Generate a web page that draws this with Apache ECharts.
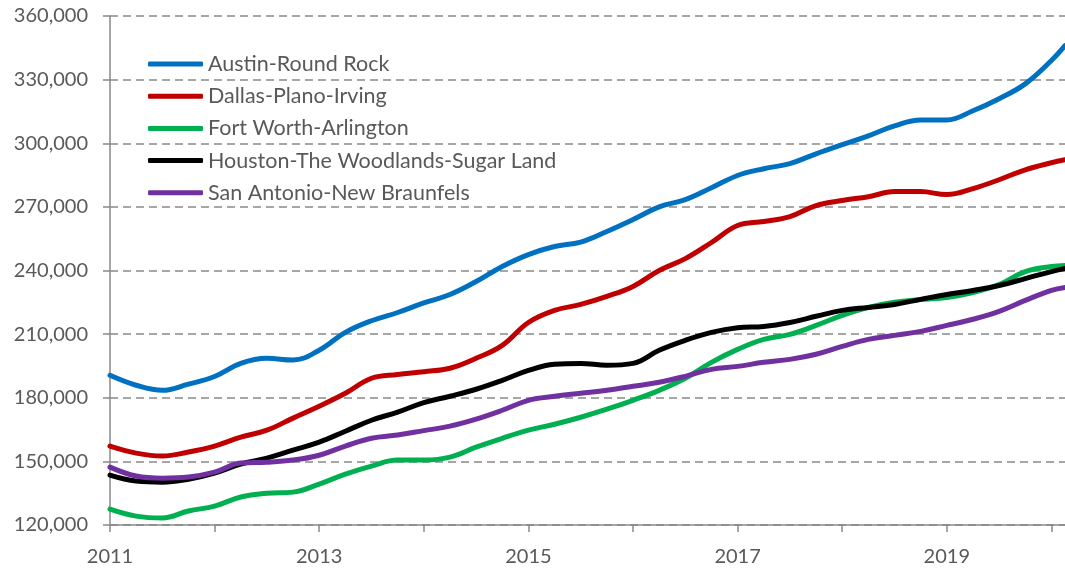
<!DOCTYPE html>
<html>
<head>
<meta charset="utf-8">
<script src="https://cdn.jsdelivr.net/npm/echarts@6/dist/echarts.min.js"></script>
<style>
  html, body { margin: 0; padding: 0; background: #fff; }
  #chart { width: 1065px; height: 571px; }
</style>
</head>
<body>
<div id="chart"></div>
<script>
  // quarterly readings, decimal years
  var periods = [2011, 2011.25, 2011.5, 2011.75, 2012, 2012.25, 2012.5, 2012.75,
    2013, 2013.25, 2013.5, 2013.75, 2014, 2014.25, 2014.5, 2014.75,
    2015, 2015.25, 2015.5, 2015.75, 2016, 2016.25, 2016.5, 2016.75,
    2017, 2017.25, 2017.5, 2017.75, 2018, 2018.25, 2018.5, 2018.75,
    2019, 2019.25, 2019.5, 2019.75, 2020, 2020.13];

  var austin = [190600, 185900, 183500, 186400, 190000, 196200, 198600, 197800,
    202400, 210800, 216300, 220200, 224700, 228700, 234800, 241900,
    247500, 251300, 253400, 258400, 264000, 270000, 273400, 279000,
    284800, 288000, 290400, 295000, 299300, 303500, 308200, 311000,
    311000, 315300, 321000, 328000, 339000, 346000];
  var dallas = [157200, 153900, 152500, 154400, 157200, 161400, 164700, 170400,
    176000, 182100, 189200, 191000, 192300, 193900, 198600, 204700,
    215500, 221200, 224000, 227800, 232500, 240000, 245600, 253200,
    261200, 263100, 265400, 270600, 273000, 274800, 277200, 277200,
    275800, 278600, 282800, 287500, 290800, 292200];
  var fortWorth = [127500, 124200, 123300, 126600, 128900, 133200, 135000, 135500,
    139300, 144000, 147800, 150600, 150600, 152000, 156700, 160900,
    164700, 167500, 170800, 174600, 178800, 183500, 189200, 196700,
    202800, 207500, 209900, 214100, 218800, 222600, 225000, 226300,
    227300, 229600, 233400, 239500, 241900, 242400];
  var houston = [143500, 140700, 140200, 141600, 144500, 148700, 151500, 155300,
    159100, 164200, 169400, 173200, 177700, 180700, 184000, 188200,
    192900, 195800, 196200, 195300, 196200, 202400, 207100, 210800,
    213000, 213600, 215500, 218400, 221200, 222600, 224000, 226400,
    228700, 230600, 232900, 236200, 239500, 241000];
  var sanAntonio = [147300, 143100, 142100, 142600, 144900, 149200, 149600, 150600,
    152900, 157200, 160900, 162400, 164500, 166600, 169900, 174100,
    178800, 180700, 182100, 183500, 185400, 187300, 190100, 193400,
    194800, 196700, 198100, 200500, 204200, 207500, 209400, 211300,
    214100, 217000, 220700, 225900, 230600, 232000];

  var names = ["Austin-Round Rock", "Dallas-Plano-Irving", "Fort Worth-Arlington",
    "Houston-The Woodlands-Sugar Land", "San Antonio-New Braunfels"];
  var colors = ["#0070C0", "#C00000", "#00B050", "#000000", "#7030A0"];
  var yearTicks = [2011, 2012, 2013, 2014, 2015, 2016, 2017, 2018, 2019, 2020];
  var yearLabels = [2011, 2013, 2015, 2017, 2019];

  var textColor = "#595959";
  var gridColor = "#898989";
  var font = "Lato";

  function pairs(values) {
    return values.map((v, i) => [periods[i], v]);
  }

  var myChart = echarts.init(document.getElementById("chart"), null, { renderer: "canvas" });
  var option = {
    animation: false,
    color: colors,
    textStyle: { fontFamily: font },
    grid: { left: 110, right: 0, top: 16, bottom: 46 },
    legend: {
      data: names,
      orient: "vertical",
      left: 148,
      top: 52,
      padding: 0,
      icon: "roundRect",
      itemWidth: 55,
      itemHeight: 5,
      itemGap: 8.2,
      textStyle: { color: textColor, fontSize: 21.5, fontFamily: font, lineHeight: 24 }
    },
    xAxis: {
      type: "value",
      min: 2011,
      max: 2020.13,
      interval: 1,
      axisLine: { lineStyle: { color: gridColor, width: 1.5 } },
      axisTick: { length: 7, customValues: yearTicks, lineStyle: { color: gridColor, width: 1.5 } },
      axisLabel: {
        customValues: yearLabels,
        margin: 22,
        color: textColor,
        fontSize: 20,
        fontFamily: font,
        formatter: (v) => String(v)
      },
      splitLine: { show: false }
    },
    yAxis: {
      type: "value",
      min: 120000,
      max: 360000,
      interval: 30000,
      axisLine: { show: true, lineStyle: { color: gridColor, width: 1.5 } },
      axisTick: { show: true, length: 7, lineStyle: { color: gridColor, width: 1.5 } },
      axisLabel: {
        margin: 22,
        color: textColor,
        fontSize: 20,
        fontFamily: font,
        formatter: (v) => v.toLocaleString("en-US")
      },
      splitLine: { lineStyle: { color: gridColor, width: 1.5, type: [8, 5] } }
    },
    series: [austin, dallas, fortWorth, houston, sanAntonio].map((vals, i) => ({
      name: names[i],
      type: "line",
      data: pairs(vals),
      smooth: 0.4,
      showSymbol: false,
      lineStyle: { width: 5, color: colors[i], cap: "round" },
      itemStyle: { color: colors[i] }
    }))
  };
  myChart.setOption(option);
</script>
</body>
</html>
